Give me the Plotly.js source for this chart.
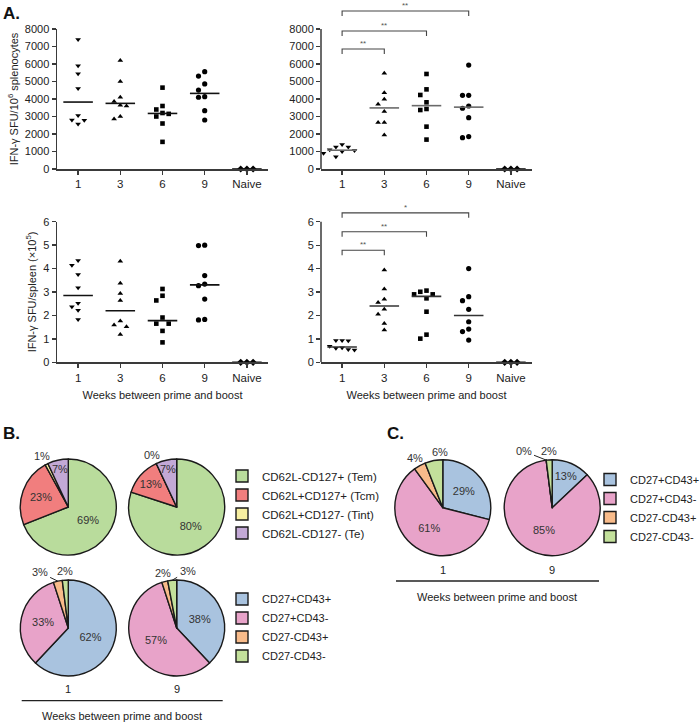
<!DOCTYPE html>
<html><head><meta charset="utf-8">
<script src="https://cdn.plot.ly/plotly-3.0.1.min.js"></script>
<style>html,body{margin:0;padding:0;background:#fff}#chart{width:700px;height:724px}</style>
</head><body><div id="chart"></div>
<script>
const W = 700, H = 724;
const FONT = 'Arial, "Liberation Sans", sans-serif';

// ---- Panel A data ----
const weekLabels = ['1', '3', '6', '9', 'Naive'];
const groupSymbols = ['triangle-down', 'triangle-up', 'square', 'circle', 'diamond'];
// IFN-γ SFU / 10^6 splenocytes (left and right)
const splenLeft = [
  [7400, 5900, 5450, 4600, 3050, 2800, 2780, 2570],
  [6200, 5000, 4100, 3850, 3650, 3600, 3000, 2850],
  [4650, 3600, 3400, 3200, 3150, 3000, 2600, 1550],
  [5560, 5310, 4860, 4510, 4130, 4100, 3330, 2800],
  [0, 0, 0]
];
const splenRight = [
  [1400, 1250, 1250, 1100, 1050, 1000, 900, 700],
  [5470, 4360, 3980, 3700, 3280, 2650, 2650, 1940],
  [5430, 4550, 4230, 3810, 3430, 3370, 2420, 1680],
  [5940, 4210, 4210, 3600, 3470, 2930, 1850, 1790],
  [0, 0, 0]
];
// IFN-γ SFU / spleen (x10^5)
const spleenLeft = [
  [4.34, 4.14, 3.75, 3.18, 2.52, 2.37, 2.22, 1.83],
  [4.31, 3.37, 2.94, 2.64, 1.76, 1.59, 1.52, 1.19],
  [3.13, 2.84, 2.64, 1.91, 1.65, 1.65, 1.34, 0.85],
  [5.00, 4.98, 3.70, 3.34, 3.27, 2.70, 1.83, 1.81],
  [0, 0, 0]
];
const spleenRight = [
  [0.93, 0.93, 0.92, 0.68, 0.62, 0.60, 0.55, 0.52],
  [3.94, 3.13, 2.69, 2.55, 2.26, 2.05, 1.66, 1.38],
  [3.06, 3.01, 2.90, 2.90, 2.73, 2.16, 1.18, 1.01],
  [4.00, 2.80, 2.63, 2.26, 1.73, 1.42, 1.31, 0.95],
  [0, 0, 0]
];
// significance brackets (from week 1 to target group)
const sigTargets = [1, 2, 3];
const sigTopLevels = [6857, 7886, 9030];
const sigTopLabels = ['**', '**', '**'];
const sigBotLevels = [4.78, 5.57, 6.38];
const sigBotLabels = ['**', '**', '*'];

// ---- Panel B / C data ----
const memLabels = ['CD62L-CD127+ (Tem)', 'CD62L+CD127+ (Tcm)', 'CD62L+CD127- (Tint)', 'CD62L-CD127- (Te)'];
const memColors = ['#b9dc9c', '#f17e7e', '#f6eea0', '#c3a9d6'];
const memWeek1 = [69, 23, 1, 7];
const memWeek9 = [80, 13, 0, 7];
const cdLabels = ['CD27+CD43+', 'CD27+CD43-', 'CD27-CD43+', 'CD27-CD43-'];
const cdColors = ['#a9c3df', '#e8a3c9', '#f8bb8a', '#c3e09b'];
const cdB1 = [62, 33, 3, 2];
const cdB9 = [38, 57, 2, 3];
const cdC1 = [29, 61, 4, 6];
const cdC9 = [13, 85, 0, 2];
const pieWeekLabels = ['1', '9'];

// ---- geometry helpers ----
const dx = (a, b) => [a / W, b / W];
const dy = (top, bot) => [1 - bot / H, 1 - top / H];

const panels = [
  {id: '', data: splenLeft, xd: dx(57, 268), yd: dy(29, 169), yr: [0, 8000], ymax: 8000, dt: 1000, med: '#111'},
  {id: '2', data: splenRight, xd: dx(321, 532), yd: dy(1, 169), yr: [0, 9600], ymax: 8000, dt: 1000, med: '#6a6a6a', sig: [sigTopLevels, sigTopLabels]},
  {id: '3', data: spleenLeft, xd: dx(57, 268), yd: dy(221.7, 362.3), yr: [0, 6], ymax: 6, dt: 1, med: '#111'},
  {id: '4', data: spleenRight, xd: dx(321, 532), yd: dy(203, 362.3), yr: [0, 6.8], ymax: 6, dt: 1, med: '#333', sig: [sigBotLevels, sigBotLabels]}
];
const markerSizes = [5, 5, 4.6, 5.2, 5.5];

function median(a) {
  const s = a.slice().sort((p, q) => p - q); const n = s.length;
  return n % 2 ? s[(n - 1) / 2] : (s[n / 2 - 1] + s[n / 2]) / 2;
}
function swarm(vals, pxY, pxX, d) {
  const placed = []; const res = new Array(vals.length);
  const order = vals.map((v, i) => i).sort((a, b) => vals[b] - vals[a]);
  for (const i of order) {
    const y = vals[i] * pxY;
    for (const k of [0, -1, 1, -2, 2, -3, 3]) {
      const x = k * d;
      if (placed.every(p => Math.hypot(p.x - x, p.y - y) >= d - 0.01)) { placed.push({x, y}); res[i] = x / pxX; break; }
    }
  }
  return res;
}

const traces = [];
const layout = {
  width: W, height: H, margin: {l: 0, r: 0, t: 0, b: 0, autoexpand: false},
  paper_bgcolor: '#fff', plot_bgcolor: 'rgba(0,0,0,0)',
  font: {family: FONT, size: 11, color: '#222'},
  showlegend: true, shapes: [], annotations: []
};
const axisColor = '#3a3a3a';

panels.forEach((p) => {
  const xa = 'x' + p.id, ya = 'y' + p.id;
  const hPx = (p.yd[1] - p.yd[0]) * H;
  const pxY = hPx / (p.yr[1] - p.yr[0]);
  const pxX = (p.xd[1] - p.xd[0]) * W / 5;
  p.data.forEach((vals, g) => {
    const offs = swarm(vals, pxY, pxX, 6.2);
    traces.push({
      type: 'scatter', mode: 'markers', xaxis: xa, yaxis: ya, cliponaxis: false,
      x: vals.map((v, i) => g + offs[i]), y: vals,
      marker: {symbol: groupSymbols[g], size: markerSizes[g], color: '#000'},
      showlegend: false, hoverinfo: 'skip'
    });
    const m = median(vals);
    traces.push({
      type: 'scatter', mode: 'lines', xaxis: xa, yaxis: ya, cliponaxis: false,
      x: [g - 0.35, g + 0.35], y: [m, m],
      line: {color: g === 4 ? '#111' : p.med, width: 1.6},
      showlegend: false, hoverinfo: 'skip'
    });
  });
  if (p.sig) {
    const [levels, labels] = p.sig;
    const t = 5 / pxY;
    levels.forEach((h, i) => {
      const k = sigTargets[i];
      traces.push({
        type: 'scatter', mode: 'lines', xaxis: xa, yaxis: ya,
        x: [0, 0, k, k], y: [h - t, h, h, h - t],
        line: {color: '#444', width: 1.1}, showlegend: false, hoverinfo: 'skip'
      });
      layout.annotations.push({
        xref: xa, yref: ya, x: k / 2, y: h, yanchor: 'bottom', yshift: -1, showarrow: false,
        text: labels[i], font: {size: 8, color: '#555'}
      });
    });
  }
  const tv = []; for (let v = 0; v <= p.ymax + 1e-9; v += p.dt) tv.push(+v.toFixed(6));
  const custom = p.id === '2' || p.id === '4';
  layout['xaxis' + p.id] = {
    domain: p.xd, anchor: ya, range: [-0.5, 4.5], tickmode: 'array', tickvals: [0, 1, 2, 3, 4], ticktext: weekLabels,
    showline: true, linecolor: axisColor, linewidth: 1.5, ticks: 'outside', ticklen: 4, tickcolor: axisColor, tickwidth: 1.3,
    showgrid: false, zeroline: false, tickfont: {size: 11.5, color: '#222'}, fixedrange: true
  };
  layout['yaxis' + p.id] = {
    domain: p.yd, anchor: xa, range: p.yr, tickmode: 'array', tickvals: tv,
    showline: !custom, linecolor: axisColor, linewidth: 1.5, ticks: 'outside', ticklen: 4, tickcolor: axisColor, tickwidth: 1.3,
    showgrid: false, zeroline: false, tickfont: {size: 11, color: '#222'}, fixedrange: true
  };
  if (custom) {
    layout.shapes.push({type: 'line', xref: xa + ' domain', yref: ya, x0: 0, x1: 0, y0: 0, y1: p.ymax,
      line: {color: axisColor, width: 1.5}});
  }
});
layout.yaxis.title = {text: 'IFN-γ SFU/10<sup>6</sup> splenocytes', font: {size: 11, color: '#222'}, standoff: 4};
layout.yaxis3.title = {text: 'IFN-γ SFU/spleen (×10<sup>5</sup>)', font: {size: 11, color: '#222'}, standoff: 4};
layout.xaxis3.title = {text: 'Weeks between prime and boost', font: {size: 11, color: '#222'}, standoff: 8};
layout.xaxis4.title = {text: 'Weeks between prime and boost', font: {size: 11, color: '#222'}, standoff: 8};

// ---- pies ----
const PIE_R = 48;
// outside: labels placed above the slice; rim: narrow slices labelled just inside the rim
function pie(values, labels, colors, cx, cy, legend, group, outside, rim) {
  const isOut = values.map((v, i) => outside.includes(i) || rim.includes(i));
  const total = values.reduce((a, b) => a + b, 0);
  let cum = 0; const items = [];
  values.forEach((v, i) => {
    const mid = (cum + v / 2) / total; cum += v;
    let th = mid * 2 * Math.PI; if (th > Math.PI) th -= 2 * Math.PI;
    if (rim.includes(i)) {
      const R = 39;
      layout.annotations.push({xref: 'paper', yref: 'paper', x: (cx + R * Math.sin(th)) / W, y: 1 - (cy - R * Math.cos(th)) / H,
        showarrow: false, text: v + '%', font: {size: 11, color: '#333'}, xanchor: 'center', yanchor: 'middle'});
      return;
    }
    if (!outside.includes(i)) return;
    const R = 57;
    items.push({v, th, x: cx + R * Math.sin(th), y: cy - R * Math.cos(th)});
  });
  items.forEach(it => it.nx = it.x);
  if (items.length === 2) {
    const [a, b] = items[0].x < items[1].x ? items : [items[1], items[0]];
    const sep = 25;
    if (b.x - a.x < sep) {
      // the smallest non-zero slice keeps its label in place; the other label is pushed aside
      const key = it => it.v > 0 ? it.v : Infinity;
      if (key(a) <= key(b)) b.x = a.x + sep; else a.x = b.x - sep;
    }
  }
  items.forEach(it => {
    const ex = cx + PIE_R * Math.sin(it.th), ey = cy - PIE_R * Math.cos(it.th);
    const moved = Math.abs(it.x - it.nx) > 3;
    const a = {xref: 'paper', yref: 'paper', text: it.v + '%', font: {size: 11, color: '#333'},
      xanchor: 'center', yanchor: 'middle'};
    if (moved) {
      Object.assign(a, {x: ex / W, y: 1 - ey / H, showarrow: true, arrowhead: 0, arrowwidth: 1, arrowcolor: '#222',
        ax: it.x - ex, ay: it.y - ey, standoff: 0, startstandoff: 1});
    } else {
      Object.assign(a, {x: it.x / W, y: 1 - it.y / H, showarrow: false});
    }
    layout.annotations.push(a);
  });
  return {
    type: 'pie', values, labels, sort: false, direction: 'clockwise', rotation: 0,
    marker: {colors, line: {color: '#1a1a1a', width: 1.4}},
    domain: {x: dx(cx - PIE_R, cx + PIE_R), y: dy(cy - PIE_R, cy + PIE_R)},
    texttemplate: values.map((v, i) => isOut[i] ? '' : '%{value}%'),
    textposition: values.map((v, i) => isOut[i] ? 'none' : 'inside'),
    insidetextorientation: 'horizontal',
    textfont: {size: 11, color: '#333'},
    legend, legendgroup: group, hoverinfo: 'skip', showlegend: true
  };
}
traces.push(pie(memWeek1, memLabels, memColors, 68.3, 507, 'legend', 'b1', [2], [3]));
traces.push(pie(memWeek9, memLabels, memColors, 176.7, 507, 'legend', 'b1', [2], [3]));
traces.push(pie(cdB1, cdLabels, cdColors, 68.3, 628, 'legend2', 'b2', [2, 3], []));
traces.push(pie(cdB9, cdLabels, cdColors, 176.7, 628, 'legend2', 'b2', [2, 3], []));
traces.push(pie(cdC1, cdLabels, cdColors, 442.8, 507.7, 'legend3', 'c', [2, 3], []));
traces.push(pie(cdC9, cdLabels, cdColors, 552.2, 507.7, 'legend3', 'c', [2, 3], []));

const legendBase = {xanchor: 'left', yanchor: 'top', bgcolor: 'rgba(0,0,0,0)', font: {size: 11.5, color: '#222'},
  itemclick: false, itemdoubleclick: false, tracegroupgap: 0};
layout.legend = Object.assign({}, legendBase, {x: 222 / W, y: 1 - 461.5 / H});
layout.legend2 = Object.assign({}, legendBase, {x: 222 / W, y: 1 - 584.5 / H, font: {size: 11, color: '#222'}});
layout.legend3 = Object.assign({}, legendBase, {x: 590 / W, y: 1 - 465 / H, font: {size: 11, color: '#222'}});

// ---- labels, lines ----
function ann(text, x, y, opts) {
  layout.annotations.push(Object.assign({xref: 'paper', yref: 'paper', x: x / W, y: 1 - y / H, showarrow: false,
    xanchor: 'center', yanchor: 'middle', text, font: {size: 11, color: '#222'}}, opts || {}));
}
ann('<b>A.</b>', 1, 2, {xanchor: 'left', yanchor: 'top', font: {size: 17, color: '#111'}});
ann('<b>B.</b>', 1, 422, {xanchor: 'left', yanchor: 'top', font: {size: 17, color: '#111'}});
ann('<b>C.</b>', 385, 422, {xanchor: 'left', yanchor: 'top', font: {size: 17, color: '#111'}});
[68.3, 176.7].forEach((x, i) => ann(pieWeekLabels[i], x, 689));
[442.8, 552.2].forEach((x, i) => ann(pieWeekLabels[i], x, 570));
ann('Weeks between prime and boost', 122, 716);
ann('Weeks between prime and boost', 497, 597);
layout.shapes.push({type: 'line', xref: 'paper', yref: 'paper', x0: 21.7 / W, x1: 222.7 / W, y0: 1 - 700.7 / H, y1: 1 - 700.7 / H, line: {color: '#222', width: 1.3}});
layout.shapes.push({type: 'line', xref: 'paper', yref: 'paper', x0: 396 / W, x1: 599 / W, y0: 1 - 581 / H, y1: 1 - 581 / H, line: {color: '#222', width: 1.3}});

Plotly.newPlot('chart', traces, layout, {displayModeBar: false, staticPlot: true});
</script>
</body></html>
